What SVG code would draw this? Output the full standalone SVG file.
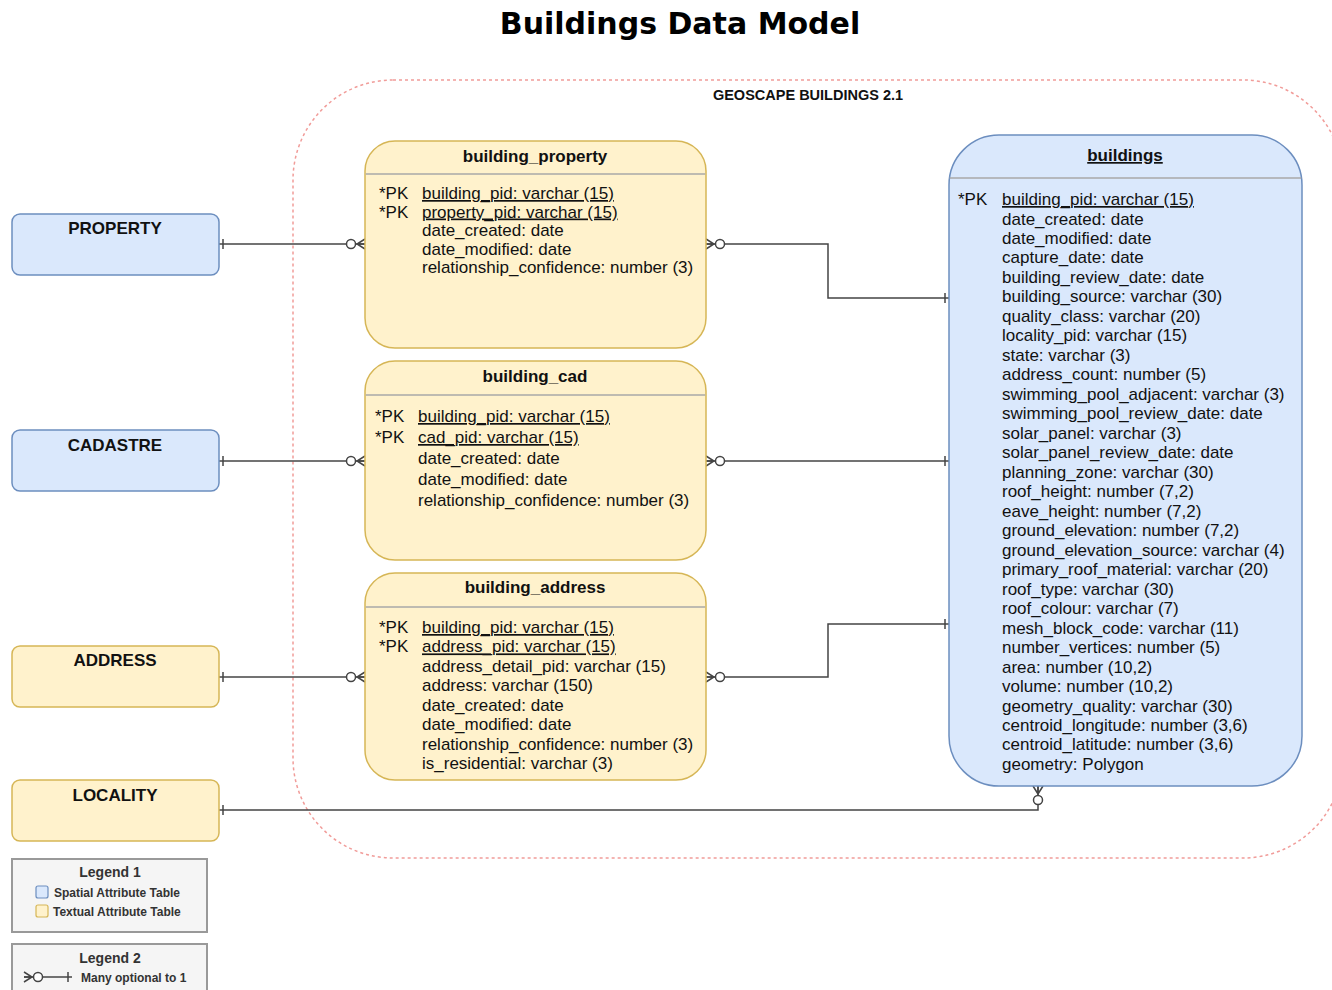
<svg xmlns="http://www.w3.org/2000/svg" width="1332" height="990" viewBox="0 0 1332 990">
<style>
text{font-family:"Liberation Sans",Arial,sans-serif;fill:#000}
.title{font-family:"DejaVu Sans",Verdana,sans-serif;font-weight:bold;font-size:30px}
.grp{font-weight:bold;font-size:14.5px;fill:#111}
.ent{font-weight:bold;font-size:17px;fill:#111}
.hd{font-weight:bold;font-size:17px;fill:#111}
.row{font-size:17px;fill:#111}
.u{text-decoration:underline}
.blue{fill:#dae8fc;stroke:#6c8ebf;stroke-width:1.5}
.yel{fill:#fff2cc;stroke:#d6b656;stroke-width:1.5}
.sep{stroke:#a9a9a9;stroke-width:1.5}
.leg{fill:#f5f5f5;stroke:#999;stroke-width:2}
.legt{font-weight:bold;font-size:14px;fill:#333}
.legs{font-weight:bold;font-size:12px;fill:#333}
.conn path{fill:none;stroke:#444;stroke-width:1.5}
</style>
<defs>
<marker id="zm" markerUnits="userSpaceOnUse" orient="auto-start-reverse" markerWidth="30" markerHeight="20" viewBox="-22 -10 30 20" refX="0" refY="0" overflow="visible">
<path d="M0,-5 L-8,0 L0,5 M-8,0 H0" fill="none" stroke="#444" stroke-width="1.5"/>
<circle cx="-14" cy="0" r="4.5" fill="#fff" stroke="#444" stroke-width="1.5"/>
</marker>
<marker id="one" markerUnits="userSpaceOnUse" orient="auto-start-reverse" markerWidth="20" markerHeight="20" viewBox="-10 -10 20 20" refX="0" refY="0" overflow="visible">
<path d="M-4,-5 V5" fill="none" stroke="#444" stroke-width="1.5"/>
</marker>
</defs>
<rect width="1332" height="990" fill="#fff"/>
<text class="title" x="680" y="34" text-anchor="middle">Buildings Data Model</text>

<g id="geoscape-container">
<rect x="293" y="80" width="1050" height="778" rx="100" ry="100" fill="none" stroke="#f19c99" stroke-width="1.5" stroke-dasharray="3 3"/>
<text class="grp" x="808" y="100" text-anchor="middle">GEOSCAPE BUILDINGS 2.1</text>
</g>

<g class="conn" id="connectors">
<path d="M219,244 H365" marker-start="url(#one)" marker-end="url(#zm)"/>
<path d="M219,461 H365" marker-start="url(#one)" marker-end="url(#zm)"/>
<path d="M219,677 H365" marker-start="url(#one)" marker-end="url(#zm)"/>
<path d="M219,810 H1038 V786" marker-start="url(#one)" marker-end="url(#zm)"/>
<path d="M949,298 H828 V244 H706" marker-start="url(#one)" marker-end="url(#zm)"/>
<path d="M949,461 H706" marker-start="url(#one)" marker-end="url(#zm)"/>
<path d="M949,624 H828 V677 H706" marker-start="url(#one)" marker-end="url(#zm)"/>
</g>

<g id="PROPERTY">
<rect class="blue" x="12" y="214" width="207" height="61" rx="8"/>
<text class="ent" x="115" y="234" text-anchor="middle">PROPERTY</text>
</g>
<g id="CADASTRE">
<rect class="blue" x="12" y="430" width="207" height="61" rx="8"/>
<text class="ent" x="115" y="451" text-anchor="middle">CADASTRE</text>
</g>
<g id="ADDRESS">
<rect class="yel" x="12" y="646" width="207" height="61" rx="8"/>
<text class="ent" x="115" y="666" text-anchor="middle">ADDRESS</text>
</g>
<g id="LOCALITY">
<rect class="yel" x="12" y="780" width="207" height="61" rx="8"/>
<text class="ent" x="115" y="801" text-anchor="middle">LOCALITY</text>
</g>

<g id="building_property">
<rect class="yel" x="365" y="141" width="341" height="207" rx="30"/>
<line class="sep" x1="365.75" y1="174" x2="705.25" y2="174"/>
<text class="hd" x="535" y="162" text-anchor="middle">building_property</text>
<text class="row" x="379" y="199">*PK</text>
<text class="row" x="379" y="217.5">*PK</text>
<text class="row u" x="422" y="199">building_pid: varchar (15)</text>
<text class="row u" x="422" y="217.5">property_pid: varchar (15)</text>
<text class="row" x="422" y="236">date_created: date</text>
<text class="row" x="422" y="254.5">date_modified: date</text>
<text class="row" x="422" y="273">relationship_confidence: number (3)</text>
</g>

<g id="building_cad">
<rect class="yel" x="365" y="361" width="341" height="199" rx="30"/>
<line class="sep" x1="365.75" y1="395" x2="705.25" y2="395"/>
<text class="hd" x="535" y="382" text-anchor="middle">building_cad</text>
<text class="row" x="375" y="422">*PK</text>
<text class="row" x="375" y="443">*PK</text>
<text class="row u" x="418" y="422">building_pid: varchar (15)</text>
<text class="row u" x="418" y="443">cad_pid: varchar (15)</text>
<text class="row" x="418" y="464">date_created: date</text>
<text class="row" x="418" y="485">date_modified: date</text>
<text class="row" x="418" y="506">relationship_confidence: number (3)</text>
</g>

<g id="building_address">
<rect class="yel" x="365" y="573" width="341" height="207" rx="30"/>
<line class="sep" x1="365.75" y1="607" x2="705.25" y2="607"/>
<text class="hd" x="535" y="593" text-anchor="middle">building_address</text>
<text class="row" x="379" y="633">*PK</text>
<text class="row" x="379" y="652.4">*PK</text>
<text class="row u" x="422" y="633">building_pid: varchar (15)</text>
<text class="row u" x="422" y="652.4">address_pid: varchar (15)</text>
<text class="row" x="422" y="671.9">address_detail_pid: varchar (15)</text>
<text class="row" x="422" y="691.3">address: varchar (150)</text>
<text class="row" x="422" y="710.7">date_created: date</text>
<text class="row" x="422" y="730.1">date_modified: date</text>
<text class="row" x="422" y="749.6">relationship_confidence: number (3)</text>
<text class="row" x="422" y="769">is_residential: varchar (3)</text>
</g>

<g id="buildings">
<rect class="blue" x="949" y="135" width="353" height="651" rx="50"/>
<line class="sep" x1="949.75" y1="178" x2="1301.25" y2="178"/>
<text class="hd u" x="1125" y="161" text-anchor="middle">buildings</text>
<text class="row" x="958" y="205">*PK</text>
<text class="row u" x="1002" y="205">building_pid: varchar (15)</text>
<text class="row" x="1002" y="224.5">date_created: date</text>
<text class="row" x="1002" y="244">date_modified: date</text>
<text class="row" x="1002" y="263.4">capture_date: date</text>
<text class="row" x="1002" y="282.9">building_review_date: date</text>
<text class="row" x="1002" y="302.4">building_source: varchar (30)</text>
<text class="row" x="1002" y="321.9">quality_class: varchar (20)</text>
<text class="row" x="1002" y="341.4">locality_pid: varchar (15)</text>
<text class="row" x="1002" y="360.8">state: varchar (3)</text>
<text class="row" x="1002" y="380.3">address_count: number (5)</text>
<text class="row" x="1002" y="399.8">swimming_pool_adjacent: varchar (3)</text>
<text class="row" x="1002" y="419.3">swimming_pool_review_date: date</text>
<text class="row" x="1002" y="438.8">solar_panel: varchar (3)</text>
<text class="row" x="1002" y="458.2">solar_panel_review_date: date</text>
<text class="row" x="1002" y="477.7">planning_zone: varchar (30)</text>
<text class="row" x="1002" y="497.2">roof_height: number (7,2)</text>
<text class="row" x="1002" y="516.7">eave_height: number (7,2)</text>
<text class="row" x="1002" y="536.2">ground_elevation: number (7,2)</text>
<text class="row" x="1002" y="555.6">ground_elevation_source: varchar (4)</text>
<text class="row" x="1002" y="575.1">primary_roof_material: varchar (20)</text>
<text class="row" x="1002" y="594.6">roof_type: varchar (30)</text>
<text class="row" x="1002" y="614.1">roof_colour: varchar (7)</text>
<text class="row" x="1002" y="633.6">mesh_block_code: varchar (11)</text>
<text class="row" x="1002" y="653">number_vertices: number (5)</text>
<text class="row" x="1002" y="672.5">area: number (10,2)</text>
<text class="row" x="1002" y="692">volume: number (10,2)</text>
<text class="row" x="1002" y="711.5">geometry_quality: varchar (30)</text>
<text class="row" x="1002" y="731">centroid_longitude: number (3,6)</text>
<text class="row" x="1002" y="750.4">centroid_latitude: number (3,6)</text>
<text class="row" x="1002" y="769.9">geometry: Polygon</text>
</g>

<g id="legend1">
<rect class="leg" x="12" y="859" width="195" height="73"/>
<text class="legt" x="110" y="877" text-anchor="middle">Legend 1</text>
<rect x="36" y="886" width="12" height="12" rx="2" fill="#dae8fc" stroke="#6c8ebf" stroke-width="1.2"/>
<text class="legs" x="54" y="897">Spatial Attribute Table</text>
<rect x="36" y="905" width="12" height="12" rx="2" fill="#fff2cc" stroke="#d6b656" stroke-width="1.2"/>
<text class="legs" x="53" y="916">Textual Attribute Table</text>
</g>

<g id="legend2">
<rect class="leg" x="12" y="944" width="195" height="60"/>
<text class="legt" x="110" y="963" text-anchor="middle">Legend 2</text>
<g class="conn"><path d="M24,977 H72" marker-start="url(#zm)" marker-end="url(#one)"/></g>
<text class="legs" x="81" y="982">Many optional to 1</text>
</g>
</svg>
